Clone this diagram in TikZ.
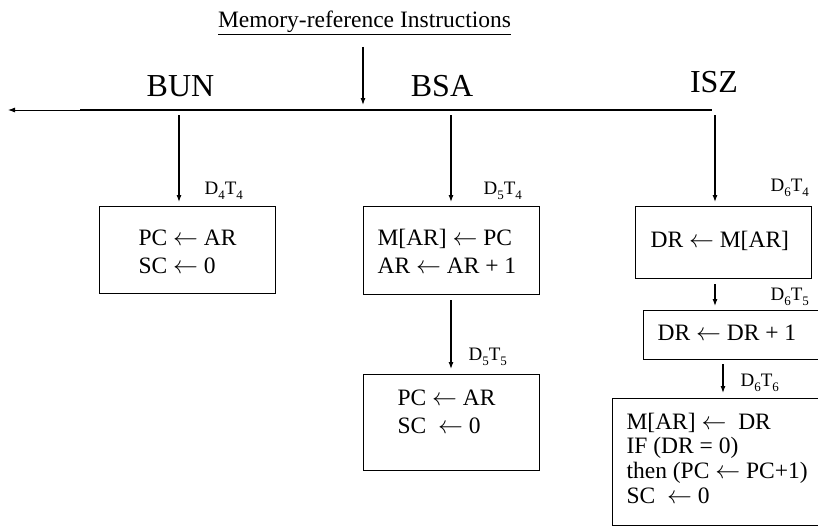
\documentclass[tikz,border=0pt]{standalone}
\usepackage{fontspec}
\setmainfont{Liberation Serif}
\usetikzlibrary{arrows.meta}

% assignment arrow and lowered index for timing signals
\newcommand{\assign}{\ensuremath{\leftarrow}}
\newcommand{\idx}[1]{\raisebox{-0.28em}{\fontsize{13}{13}\selectfont #1}}

\begin{document}
\begin{tikzpicture}[x=1pt,y=-1pt,
  line width=1.1pt,
  flow/.style={-{Latex[length=7pt,width=5pt]}, line width=1.1pt},
  blk/.style={draw, line width=1.2pt, inner sep=0pt, anchor=north west},
  txt/.style={anchor=base west, inner sep=0pt, font=\fontsize{23.5}{28}\selectfont},
  op/.style={anchor=base, inner sep=0pt, font=\fontsize{32}{36}\selectfont},
  cond/.style={anchor=base west, inner sep=0pt, font=\fontsize{19}{22}\selectfont}]
  \useasboundingbox (0,0) rectangle (818,527);
  \clip (0,0) rectangle (818,527);

  % heading and common entry arrow
  \node[anchor=base, inner sep=0pt, font=\fontsize{23.5}{28}\selectfont]
    (title) at (364.5,28) {\underline{Memory-reference Instructions}};
  \coordinate (entry) at (363,47);
  \coordinate (entryend) at (363,105);
  \draw[flow] (entry) -- (entryend);

  % decoding bus
  \coordinate (busL) at (80,110);
  \coordinate (busR) at (712,110);
  \coordinate (out) at (8,110);
  \draw[line width=2pt] (busL) -- (busR);
  \draw[flow, line width=0.9pt] (busL) -- (out);

  \node[op] (bun) at (180.5,96) {BUN};
  \node[op] (bsa) at (442,96) {BSA};
  \node[op] (isz) at (714,92) {ISZ};

  % blocks
  \node[blk, minimum width=176pt, minimum height=87pt] (b1) at (99,206) {};
  \node[blk, minimum width=176pt, minimum height=88pt] (s1) at (363,206) {};
  \node[blk, minimum width=176pt, minimum height=96pt] (s2) at (363,374) {};
  \node[blk, minimum width=176pt, minimum height=72pt] (i1) at (635,206) {};
  \node[blk, minimum width=190pt, minimum height=49pt] (i2) at (643,310) {};
  \node[blk, minimum width=220pt, minimum height=127pt] (i3) at (612,398) {};

  % block contents
  \node[txt] (b1a) at (138,245) {PC \assign\ AR};
  \node[txt] (b1b) at (138,273) {SC \assign\ 0};
  \node[txt] (s1a) at (377,245) {M[AR] \assign\ PC};
  \node[txt] (s1b) at (377,273) {AR \assign\ AR + 1};
  \node[txt] (s2a) at (397,405) {PC \assign\ AR};
  \node[txt] (s2b) at (397,433) {SC\ \ \assign\ 0};
  \node[txt] (i1a) at (650,247) {DR \assign\ M[AR]};
  \node[txt] (i2a) at (657,340) {DR \assign\ DR + 1};
  \node[txt] (i3a) at (626,429) {M[AR] \assign\ \ DR};
  \node[txt] (i3b) at (626,453) {IF (DR = 0)};
  \node[txt] (i3c) at (626,478) {then (PC \assign\ PC+1)};
  \node[txt] (i3d) at (626,503) {SC\ \ \assign\ 0};

  % branch arrows
  \coordinate (tb) at (179,115);
  \coordinate (ts) at (451,115);
  \coordinate (ti) at (715,115);
  \draw[flow, shorten >=4pt] (tb) -- (b1.north -| tb);
  \draw[flow, shorten >=4pt] (ts) -- (s1.north -| ts);
  \draw[flow, shorten >=4pt] (ti) -- (i1.north -| ti);
  \draw[flow, shorten <=5pt, shorten >=5pt] (s1.south -| ts) -- (s2.north -| ts);
  \draw[flow, shorten <=5pt, shorten >=4pt] (i1.south -| ti) -- (i2.north -| ti);
  \coordinate (tj) at (723,0);
  \draw[flow, shorten <=4pt, shorten >=5pt] (i2.south -| tj) -- (i3.north -| tj);

  % timing conditions
  \node[cond] (c1) at (204,194) {D\idx{4}T\idx{4}};
  \node[cond] (c2) at (483,194) {D\idx{5}T\idx{4}};
  \node[cond] (c3) at (468,360) {D\idx{5}T\idx{5}};
  \node[cond] (c4) at (770,191) {D\idx{6}T\idx{4}};
  \node[cond] (c5) at (770,300) {D\idx{6}T\idx{5}};
  \node[cond] (c6) at (740,386) {D\idx{6}T\idx{6}};
\end{tikzpicture}
\end{document}
